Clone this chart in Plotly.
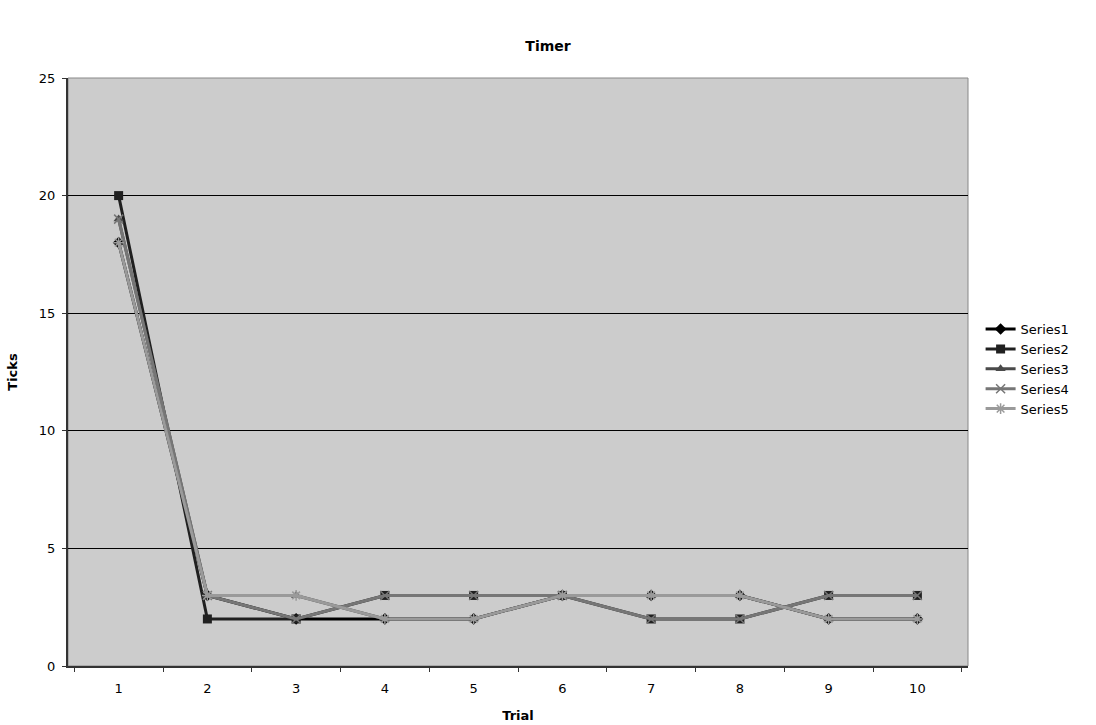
import plotly.graph_objects as go

trials = ["1", "2", "3", "4", "5", "6", "7", "8", "9", "10"]
series1 = [18, 3, 2, 2, 2, 3, 3, 3, 2, 2]
series2 = [20, 2, 2, 3, 3, 3, 2, 2, 3, 3]
series3 = [19, 3, 3, 2, 2, 3, 3, 3, 2, 2]
series4 = [19, 3, 2, 3, 3, 3, 2, 2, 3, 3]
series5 = [18, 3, 3, 2, 2, 3, 3, 3, 2, 2]

names = ["Series1", "Series2", "Series3", "Series4", "Series5"]
values = [series1, series2, series3, series4, series5]
colors = ["#000000", "#202020", "#4a4a4a", "#767676", "#9a9a9a"]
symbols = ["diamond", "square", "triangle-up", "x-thin", "asterisk"]

fig = go.Figure()
for n, v, c, s in zip(names, values, colors, symbols):
    open_sym = s in ("x-thin", "asterisk")
    marker = dict(symbol=s, size=9, color=c, line=dict(color=c, width=1.5 if open_sym else 0))
    fig.add_trace(go.Scatter(x=trials, y=v, name=n, mode="lines+markers",
                             line=dict(color=c, width=3), marker=marker))

fig.update_layout(
    width=1096, height=725,
    margin=dict(l=68, r=128, t=78, b=59, autoexpand=False),
    paper_bgcolor="white", plot_bgcolor="#cccccc",
    font=dict(family="DejaVu Sans", size=12, color="#000000"),
    title=dict(text="<b>Timer</b>", x=0.5, xanchor="center", y=0.937, yanchor="middle",
               font=dict(size=14, family="DejaVu Sans")),
    legend=dict(x=1.014, y=0.505, xanchor="left", yanchor="middle",
                bgcolor="rgba(0,0,0,0)", font=dict(size=13), tracegroupgap=0,
                itemwidth=30),
    showlegend=True,
)
fig.add_shape(type="rect", xref="paper", yref="paper", x0=0, y0=0, x1=1, y1=1,
              line=dict(color="#888888", width=1), layer="below")
fig.update_xaxes(type="category", tickson="boundaries", ticks="outside", ticklen=4,
                 tickcolor="#333", tickwidth=1, showline=True, linecolor="#333", linewidth=2,
                 showgrid=False, mirror=False, zeroline=False, ticklabelstandoff=9,
                 tickfont=dict(size=13), automargin=False,
                 title=dict(text="<b>Trial</b>", standoff=16, font=dict(size=13)))
fig.update_yaxes(range=[0, 25], tickvals=[0, 5, 10, 15, 20, 25], ticks="outside", ticklen=4,
                 tickcolor="#333", tickwidth=1, showline=True, linecolor="#333", linewidth=2,
                 showgrid=True, gridcolor="#000", gridwidth=1, zeroline=False,
                 tickfont=dict(size=13), ticklabelstandoff=4, automargin=False,
                 title=dict(text="<b>Ticks</b>", standoff=18, font=dict(size=13)))

fig.write_html("out.html")
